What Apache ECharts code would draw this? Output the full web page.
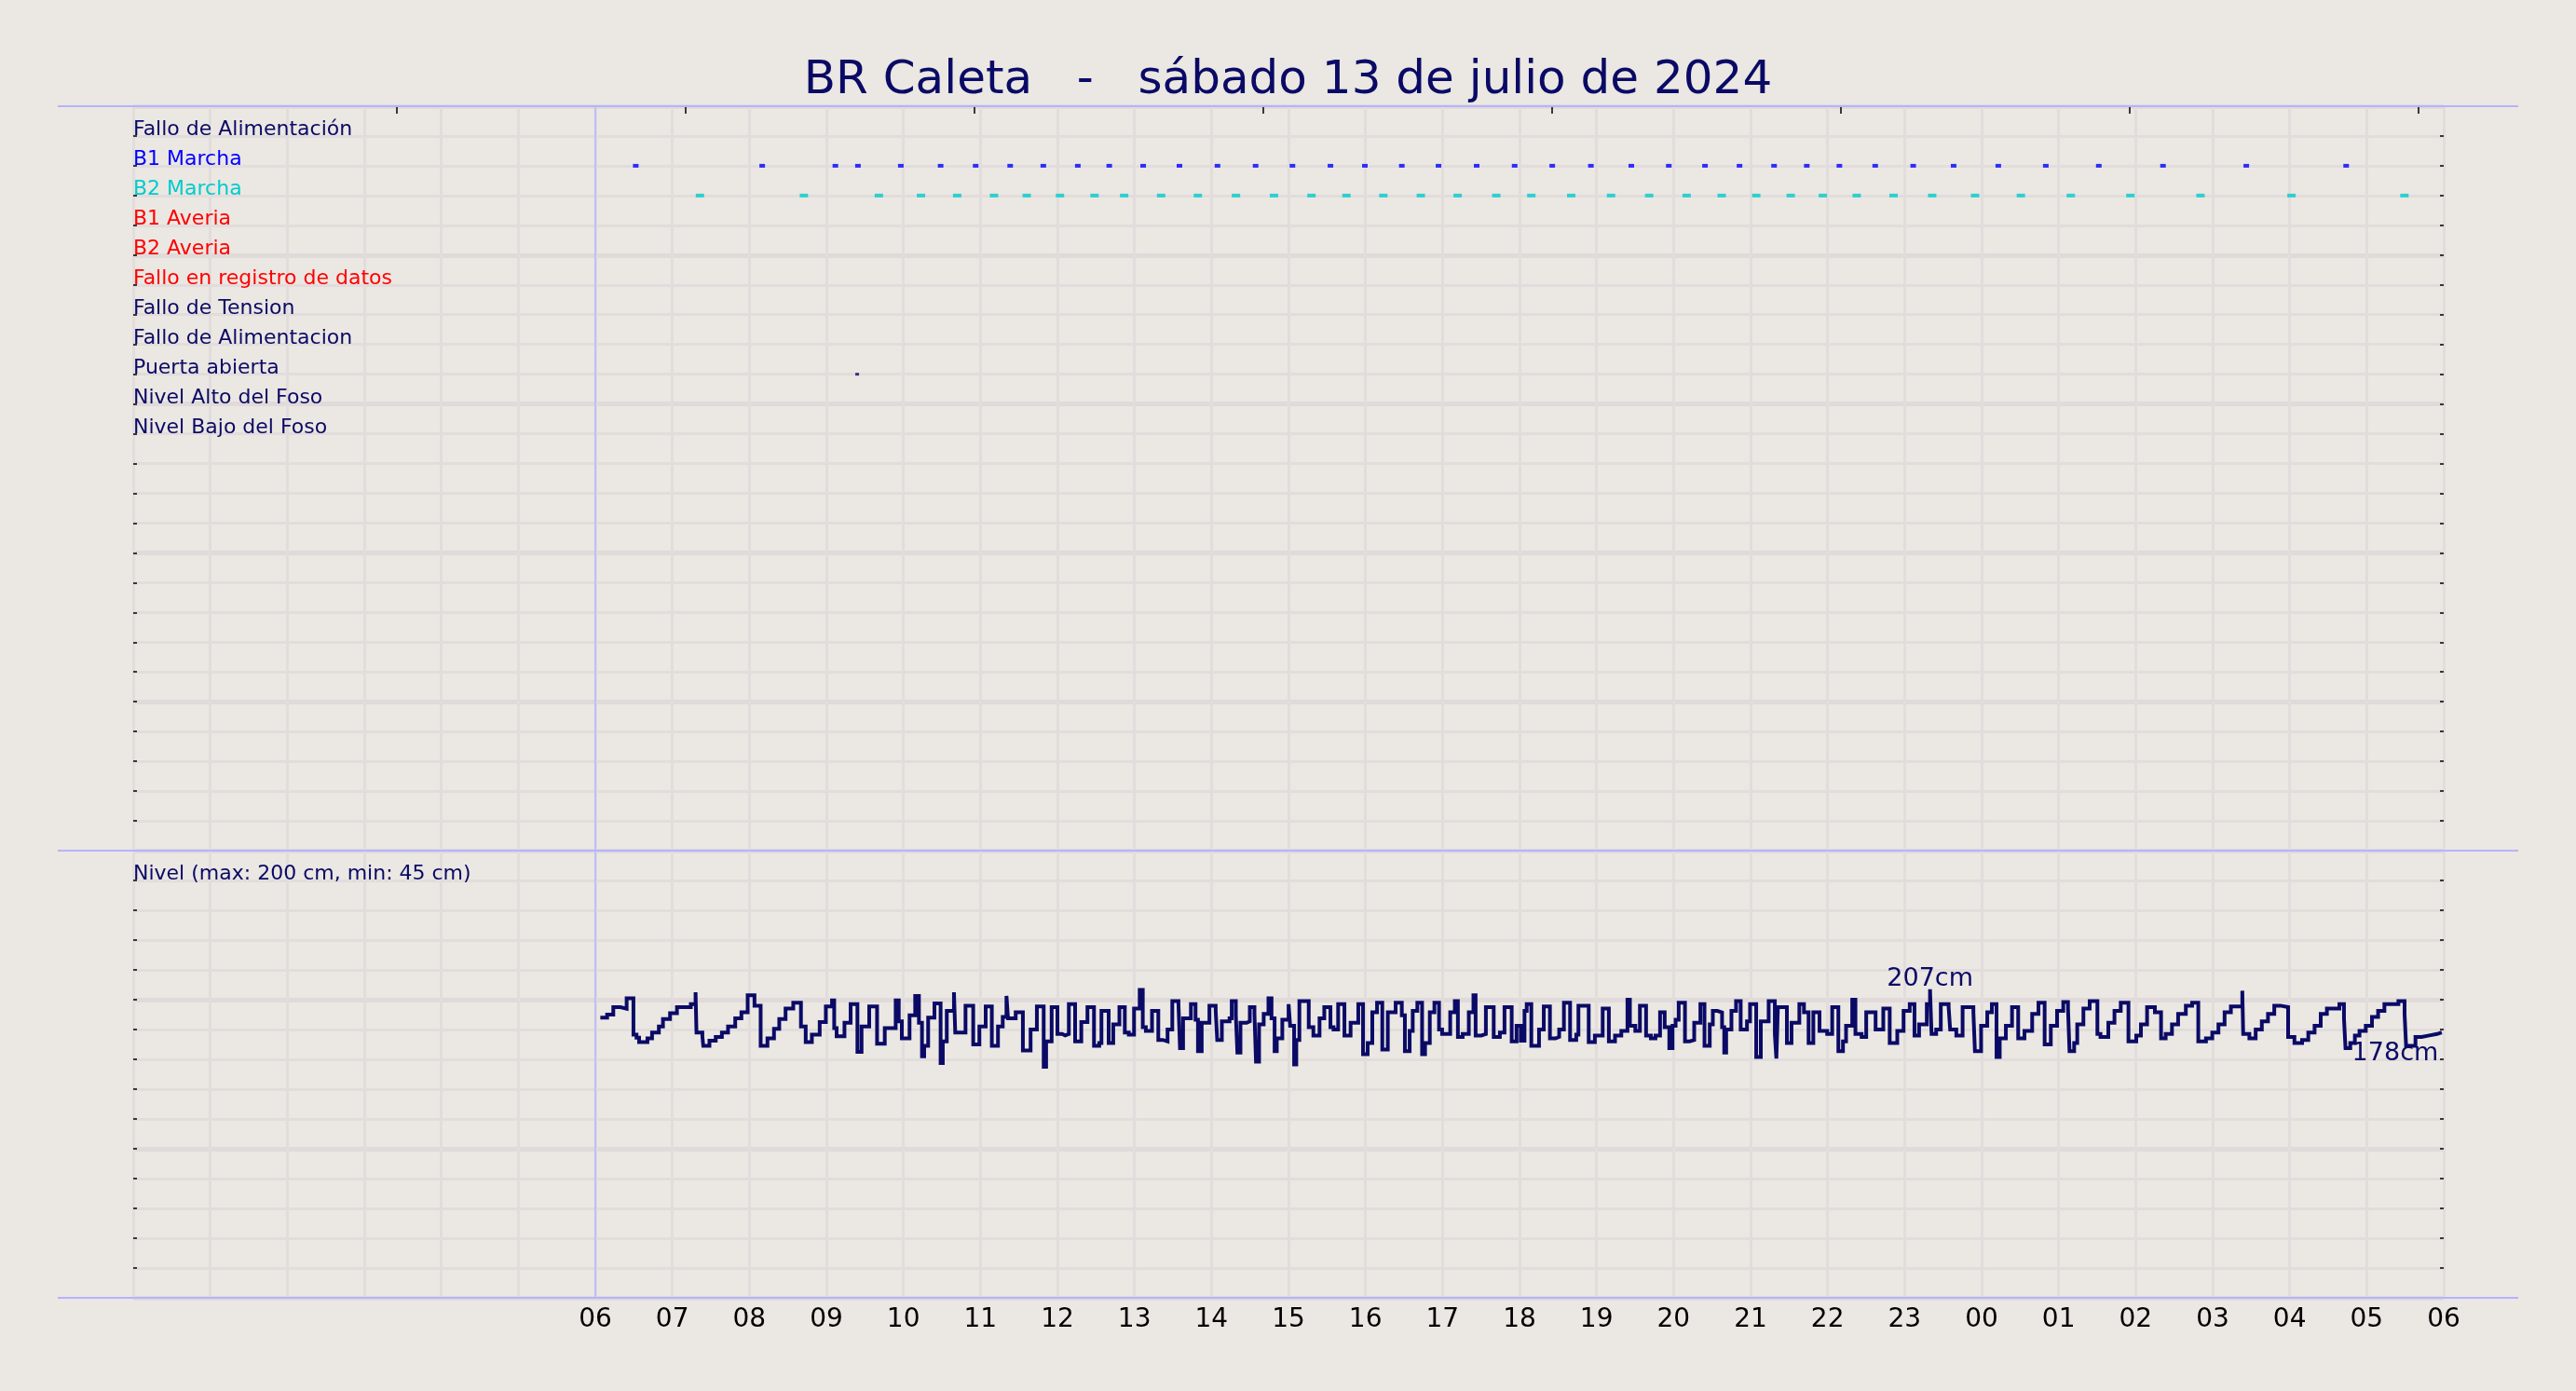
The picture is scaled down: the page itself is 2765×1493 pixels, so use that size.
<!DOCTYPE html>
<html><head><meta charset="utf-8">
<script src="https://cdn.jsdelivr.net/npm/echarts@6/dist/echarts.min.js"></script>
<style>html,body{margin:0;padding:0;background:#ebe7e2;}#c{width:2765px;height:1493px;}</style>
</head><body><div id="c"></div>
<script>
const titleText = 'BR Caleta   -   sábado 13 de julio de 2024';
const rowLabels = ['Fallo de Alimentación','B1 Marcha','B2 Marcha','B1 Averia','B2 Averia','Fallo en registro de datos','Fallo de Tension','Fallo de Alimentacion','Puerta abierta','Nivel Alto del Foso','Nivel Bajo del Foso'];
const rowColors = ['#0a0a66','#0000ff','#00cccc','#ff0000','#ff0000','#ff0000','#0a0a66','#0a0a66','#0a0a66','#0a0a66','#0a0a66'];
const levelAxisLabel = 'Nivel (max: 200 cm, min: 45 cm)';
const hourLabels = ['06','07','08','09','10','11','12','13','14','15','16','17','18','19','20','21','22','23','00','01','02','03','04','05','06'];
// event times, minutes after 06:00
const b1Marcha = [31.5,130,187,204.6,238,269,296.3,323.2,349,375.9,400.4,426.8,455.1,484.7,514.4,543.1,572.7,599.5,628.3,656.9,686.6,716.2,745.5,775.6,807.1,836.3,864.5,891.4,918.3,943.8,969.2,997.1,1026.7,1058.2,1093,1130,1171.3,1221.3,1286.2,1364];
const b2Marcha = [81.5,162.5,220.9,253.7,281.9,310.6,336.1,362,388.9,412,440.8,469.4,499.1,528.7,557.9,585.2,613.9,643.1,671.8,701.9,729.2,760.3,791.3,821,850.2,877.5,904.4,931.3,956.3,982.7,1011.4,1041.5,1074.9,1110.6,1149.5,1195.9,1250.5,1321.4,1409.4];
const puertaAbierta = [204];
// level samples: minutes after 06:00 and cm
const levelMin = [3.9,9.2,14.0,19.6,24.4,29.7,32.1,34.1,40.6,44.2,49.5,52.7,58.2,63.6,74.4,78.1,78.8,83.4,84.1,88.9,93.8,98.6,103.4,109.0,113.8,118.7,124.0,128.8,134.1,139.2,143.3,148.2,154.2,160.2,163.9,168.7,174.8,179.6,184.4,186.1,188.0,194.1,198.9,204.2,207.4,213.4,219.5,225.5,234.0,236.4,238.8,244.8,249.2,252.1,254.5,256.2,259.3,264.2,269.0,270.7,273.8,279.4,280.4,288.4,294.4,299.2,304.1,308.9,313.7,317.4,320.3,321.5,327.5,333.1,339.1,344.0,349.3,351.2,355.5,
360.0,363.6,366.0,368.9,373.8,378.6,383.4,388.5,392.6,394.3,399.9,403.5,408.3,412.5,415.6,419.7,424.1,426.5,428.9,433.7,438.6,442.2,445.8,449.5,454.3,455.5,457.9,464.0,467.6,469.5,472.4,478.4,483.3,484.5,488.1,494.1,495.8,499.0,500.2,502.6,507.4,509.9,513.5,514.7,517.1,520.7,524.4,526.8,529.2,530.9,535.2,540.1,541.3,544.4,546.1,548.5,555.8,559.4,564.2,567.9,572.7,575.1,578.7,583.6,588.4,594.4,598.1,601.7,605.3,609.0,613.1,617.4,623.5,628.3,630.7,634.4,636.8,640.4,644.1,646.4,650.1,653.7,657.3,659.7,666.0,669.6,672.0,675.7,680.5,684.1,685.8,690.2,693.8,699.9,704.7,708.3,713.9,717.7,
721.0,723.9,725.6,729.2,735.2,738.9,743.7,748.0,750.9,754.6,759.4,764.2,765.9,773.9,778.7,784.8,789.6,794.4,799.3,804.1,806.0,810.2,813.8,818.6,822.3,825.9,829.5,833.1,836.7,839.2,841.6,844.0,848.9,852.4,856.1,860.9,864.1,868.2,870.6,874.2,877.8,879.5,881.0,885.1,888.7,892.3,897.2,899.6,904.4,908.0,914.1,918.9,920.1,921.3,928.3,931.9,938.0,941.6,945.2,948.9,953.7,959.7,963.6,968.4,972.0,974.4,979.2,981.7,986.5,990.1,997.4,1003.4,1008.4,1014.3,1019.2,1024.0,1027.7,1031.3,1037.3,1039.8,1041.0,1044.6,1048.2,1054.3,1055.5,1060.3,1065.2,1073.6,1074.8,1079.6,
1084.4,1088.0,1091.6,1094.1,1098.9,1103.7,1108.5,1113.4,1119.4,1124.3,1129.1,1133.9,1138.8,1143.6,1147.3,1148.5,1152.1,1154.5,1159.3,1164.2,1170.2,1172.6,1178.7,1183.5,1188.4,1194.4,1200.5,1204.1,1208.9,1215.0,1219.8,1223.4,1228.3,1233.1,1239.1,1244.0,1248.8,1254.8,1259.7,1264.5,1269.3,1274.2,1283.1,1283.8,1288.6,1293.5,1298.3,1303.1,1308.0,1312.8,1318.8,1323.7,1329.7,1334.5,1339.4,1344.2,1349.0,1358.7,1362.3,1363.5,1367.2,1370.8,1374.4,1379.3,1384.1,1388.9,1393.8,1404.7,1409.5,1410.7,1418.0,1422.8,1428.8,1434.9,1438.5];
const levelCm = [188,190,195,194,201,176.5,174.5,171.5,174,178,182,187,191,195,197,205,178,175.5,169,172.5,175,178,182,187.5,191.5,203,196,169,174,180.5,187,194,198,182,171.5,176.5,185,195.5,199.5,181,175.5,184.5,197,165,182,195.5,170.5,181,199.5,185.5,174,189.5,202.5,184.5,162,169,188,197.5,157.5,172,192.5,205,178,196,170,182,195.5,169,182,188.5,202.5,187.5,191.5,166,180,195.5,155,172,195,
177,176,177,197,172,185,195,169,171,192.5,171,183.5,195,178,176.5,194,206.5,181.5,179,192.5,173,172,180,199,197,167.5,187.5,197,186.5,165.5,184.5,196,192.5,173,185.5,187.5,199,189.5,164.5,184.5,185.5,195,190.5,158.5,183.5,190.5,201,187.5,165.5,174,186.5,197,182.5,156.5,173,199,181.5,176,187.5,195,181.5,180,197,176,184.5,197,163.5,171,191.5,198,166.5,191.5,198,189.5,165.5,179,192.5,198,163.5,171,191.5,198,180,177,191.5,199,175,177,191.5,203,176,177,195,175,178,195,172,182.5,
172.5,192.5,197,169,180,195.5,174,175,180,198,173,176.5,196,171.5,176,194,172,176,179,200,182.5,179,196,176,174,176,191.5,181.5,167.5,182.5,186.5,198,172,173,184.5,197,169,183.5,192.5,191.5,181.5,164.5,180,192.5,199,180,185.5,197,161.5,185.5,199,177,160.5,195,171,184.5,197,191.5,171,191.5,179,177,195,165.5,172,182.5,200,177,175,191.5,180,194,171,179,192.5,197,176,183.5,197,207,177,180,197,195,180,176,195,191.5,165.5,182.5,
191.5,197,161.5,174,182.5,195,174,179,190.5,198,170,182.5,192.5,198.5,194,165.5,171,183.5,194,199,177,175,184.5,192.5,198,172,176,183.5,195,191.5,174,177,183.5,190.5,196,198,172,174,178,183.5,191.5,195.5,206,177,174,180,185.5,190.5,196,195,175,171,173,178,182.5,190.5,194,197,187.5,167.5,171,176,179,182.5,188.5,192.5,197,199,190.5,169,175,176,177,178,178];

const HOUR0 = 360;            // 06:00 expressed in minutes of the 30 h axis
const TOP_TICKS = [205.5,430.5,655.5,880.5,1105.5,1330.5,1555.5,1780.5];
const navy = '#0a0a66';
const purple = '#b4b4ff';
const gridMinor = '#e2dddc';
const gridMajor = '#e0dada';
const FONT = 'DejaVu Sans';

const rowValue = name => 24 - rowLabels.indexOf(name);
const levelData = levelMin.map((m, i) => [m + HOUR0, levelCm[i]]);
let maxIdx = 0; levelCm.forEach((v, i) => { if (v > levelCm[maxIdx]) maxIdx = i; });
const lastIdx = levelCm.length - 1;

const chart = echarts.init(document.getElementById('c'), null, {renderer: 'canvas'});
const xBase = {type: 'value', min: 0, max: 1800, interval: 60};
const vLine = {silent: true, symbol: 'none', label: {show: false},
  lineStyle: {color: purple, width: 1.5, type: 'solid'}, data: [{xAxis: HOUR0}]};

chart.setOption({
  backgroundColor: '#ebe7e2',
  animation: false,
  title: {text: titleText, left: 'center', top: 57,
    textStyle: {fontSize: 50, fontWeight: 'normal', color: navy, fontFamily: FONT}},
  grid: [
    {left: 143, right: 142, top: 114, height: 799},
    {left: 143, right: 142, top: 913, height: 480}
  ],
  xAxis: [
    Object.assign({}, xBase, {gridIndex: 0, position: 'bottom', axisLine: {show: false, onZero: false}, axisTick: {show: false}, axisLabel: {show: false},
      splitLine: {show: true, lineStyle: {color: gridMinor, width: 3}}}),
    Object.assign({}, xBase, {gridIndex: 0, position: 'top', axisLine: {show: false, onZero: false}, axisLabel: {show: false}, splitLine: {show: false},
      axisTick: {show: true, inside: true, length: 8, lineStyle: {color: '#000', width: 1.5}, customValues: TOP_TICKS}}),
    Object.assign({}, xBase, {gridIndex: 1, position: 'bottom', axisLine: {show: false, onZero: false}, axisTick: {show: false},
      splitLine: {show: true, lineStyle: {color: gridMinor, width: 3}},
      axisLabel: {show: true, margin: 10, fontSize: 28, color: '#000', fontFamily: FONT,
        formatter: v => v < HOUR0 ? '' : hourLabels[Math.round((v - HOUR0) / 60)]}})
  ],
  yAxis: [
    {type: 'value', gridIndex: 0, min: 0, max: 25, interval: 5, axisLine: {show: false}, axisTick: {show: false}, axisLabel: {show: false},
      splitLine: {show: true, lineStyle: {color: gridMajor, width: 5}},
      minorTick: {show: false, splitNumber: 5}, minorSplitLine: {show: true, lineStyle: {color: gridMinor, width: 3}}},
    {type: 'value', gridIndex: 0, min: 0, max: 25, interval: 1, position: 'left', axisLine: {show: false}, splitLine: {show: false},
      axisTick: {show: true, inside: true, length: 4, lineStyle: {color: '#000', width: 1.5}},
      axisLabel: {show: true, inside: true, margin: 0, align: 'left', verticalAlign: 'bottom', lineHeight: 13,
        fontSize: 22, fontFamily: FONT,
        formatter: v => { const i = 24 - v; return (i >= 0 && i < rowLabels.length) ? rowLabels[i] : ''; },
        color: v => { const i = 24 - v; return (i >= 0 && i < rowColors.length) ? rowColors[i] : navy; }}},
    {type: 'value', gridIndex: 0, min: 0, max: 25, interval: 1, position: 'right', axisLine: {show: false}, splitLine: {show: false}, axisLabel: {show: false},
      axisTick: {show: true, inside: true, length: 4, lineStyle: {color: '#000', width: 1.5}}},
    {type: 'value', gridIndex: 1, min: 0, max: 300, interval: 100, axisLine: {show: false}, axisTick: {show: false}, axisLabel: {show: false},
      splitLine: {show: true, lineStyle: {color: gridMajor, width: 5}},
      minorTick: {show: false, splitNumber: 5}, minorSplitLine: {show: true, lineStyle: {color: gridMinor, width: 3}}},
    {type: 'value', gridIndex: 1, min: 0, max: 300, interval: 20, position: 'left', axisLine: {show: false}, splitLine: {show: false},
      axisTick: {show: true, inside: true, length: 4, lineStyle: {color: '#000', width: 1.5}},
      axisLabel: {show: true, inside: true, margin: 0, align: 'left', verticalAlign: 'bottom', lineHeight: 13,
        fontSize: 22, fontFamily: FONT, color: navy, formatter: v => v === 280 ? levelAxisLabel : ''}},
    {type: 'value', gridIndex: 1, min: 0, max: 300, interval: 20, position: 'right', axisLine: {show: false}, splitLine: {show: false}, axisLabel: {show: false},
      axisTick: {show: true, inside: true, length: 4, lineStyle: {color: '#000', width: 1.5}}}
  ],
  series: [
    {name: 'B1 Marcha', type: 'scatter', xAxisIndex: 0, yAxisIndex: 1, symbol: 'rect', symbolSize: [6, 4],
      itemStyle: {color: '#0000ff'}, data: b1Marcha.map(m => [m + HOUR0, rowValue('B1 Marcha')]), markLine: vLine},
    {name: 'B2 Marcha', type: 'scatter', xAxisIndex: 0, yAxisIndex: 1, symbol: 'rect', symbolSize: [9, 4],
      itemStyle: {color: '#00cccc'}, data: b2Marcha.map(m => [m + HOUR0, rowValue('B2 Marcha')])},
    {name: 'Puerta abierta', type: 'scatter', xAxisIndex: 0, yAxisIndex: 1, symbol: 'rect', symbolSize: [4, 3],
      itemStyle: {color: navy}, data: puertaAbierta.map(m => [m + HOUR0, rowValue('Puerta abierta')])},
    {name: 'Nivel', type: 'line', xAxisIndex: 2, yAxisIndex: 4, step: 'end', showSymbol: false, symbol: 'none',
      lineStyle: {color: navy, width: 4, join: 'miter'}, data: levelData, markLine: vLine,
      markPoint: {symbol: 'circle', symbolSize: 0, silent: true,
        data: [
          {coord: levelData[maxIdx], label: {show: true, position: 'top', distance: 0, offset: [0, 3], formatter: levelCm[maxIdx] + 'cm',
            fontSize: 27, color: navy, fontFamily: FONT}},
          {coord: levelData[lastIdx], label: {show: true, position: 'bottom', distance: 2, offset: [-50, 7], formatter: levelCm[lastIdx] + 'cm',
            fontSize: 27, color: navy, fontFamily: FONT}}
        ]}}
  ],
  graphic: [
    {type: 'line', silent: true, z: 100, shape: {x1: 62, y1: 114, x2: 2703, y2: 114}, style: {stroke: purple, lineWidth: 2}},
    {type: 'line', silent: true, z: 100, shape: {x1: 62, y1: 913, x2: 2703, y2: 913}, style: {stroke: purple, lineWidth: 2}},
    {type: 'line', silent: true, z: 100, shape: {x1: 62, y1: 1393, x2: 2703, y2: 1393}, style: {stroke: purple, lineWidth: 2}}
  ]
});
</script></body></html>
